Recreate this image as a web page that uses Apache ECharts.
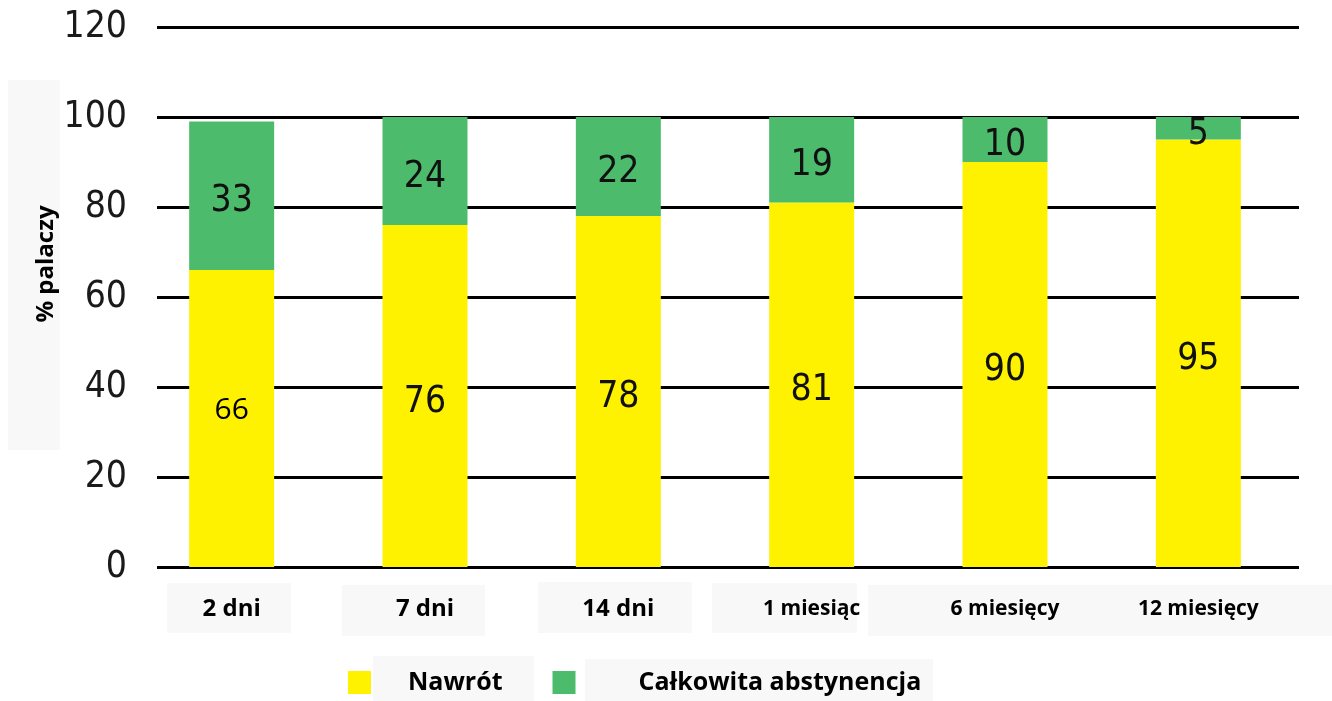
<!DOCTYPE html>
<html>
<head>
<meta charset="utf-8">
<script src="https://cdn.jsdelivr.net/npm/echarts@6/dist/echarts.min.js"></script>
<style>
  html, body { margin: 0; padding: 0; background: #fff; }
  #chart { width: 1332px; height: 701px; }
</style>
</head>
<body>
<div id="chart"></div>
<script>
// categories and values
const categories = ["2 dni", "7 dni", "14 dni", "1 miesiąc", "6 miesięcy", "12 miesięcy"];
const relapse = [66, 76, 78, 81, 90, 95];     // Nawrót
const abstinence = [33, 24, 22, 19, 10, 5];   // Całkowita abstynencja
const yTicks = [0, 20, 40, 60, 80, 100, 120];

const NARROW = '"Liberation Sans Narrow", "DejaVu Sans Condensed", Roboto, sans-serif';
const BOLD = '"Open Sans", "Noto Sans", sans-serif';
const YELLOW = "#fff200";
const GREEN = "#4cbb6c";
const PALE = "#f8f8f8";

const chart = echarts.init(document.getElementById("chart"), null, { renderer: "canvas" });

// faint pasted-in boxes behind the texts
const paleBox = (x, y, w, h) => ({
  type: "rect", z: -1, silent: true,
  shape: { x, y, width: w, height: h },
  style: { fill: PALE }
});

const option = {
  backgroundColor: "#fff",
  animation: false,
  grid: [
    // gridlines + tick labels
    { left: 157, right: 33, top: 27, height: 540 },
    // bars + category labels
    { left: 135, width: 1160, top: 27, height: 540 }
  ],
  xAxis: [
    { gridIndex: 0, type: "category", data: categories, show: false },
    {
      gridIndex: 1,
      type: "category",
      data: categories,
      axisLine: { show: false },
      axisTick: { show: false },
      axisLabel: {
        margin: 27,
        formatter: (v) => (v.indexOf("dni") >= 0 ? `{d|${v}}` : `{m|${v}}`),
        rich: {
          d: { fontFamily: BOLD, fontWeight: "bold", fontSize: 24, color: "#000", lineHeight: 30 },
          m: { fontFamily: BOLD, fontWeight: "bold", fontSize: 21, color: "#000", lineHeight: 30 }
        }
      }
    }
  ],
  yAxis: [
    {
      gridIndex: 0,
      type: "value",
      min: yTicks[0],
      max: yTicks[yTicks.length - 1],
      interval: yTicks[1] - yTicks[0],
      axisLine: { show: false },
      axisTick: { show: false },
      axisLabel: {
        margin: 30,
        color: "#1a1a1a",
        fontFamily: NARROW,
        fontSize: 37
      },
      splitLine: { lineStyle: { color: "#000", width: 3 } }
    },
    {
      gridIndex: 1,
      type: "value",
      min: yTicks[0],
      max: yTicks[yTicks.length - 1],
      show: false,
      splitLine: { show: false }
    }
  ],
  legend: {
    left: 348,
    top: 670,
    padding: 0,
    itemWidth: 23,
    itemHeight: 23,
    itemGap: 50,
    icon: "rect",
    textStyle: { fontFamily: BOLD, fontWeight: "bold", fontSize: 25, color: "#000" },
    data: [
      { name: "Nawrót", textStyle: { padding: [0, 0, 0, 32] } },
      { name: "Całkowita abstynencja", textStyle: { padding: [0, 0, 0, 58] } }
    ]
  },
  graphic: [
    paleBox(8, 80, 52, 370),
    paleBox(167, 583, 124, 50),
    paleBox(342, 585, 143, 51),
    paleBox(538, 582, 154, 51),
    paleBox(712, 583, 145, 50),
    paleBox(868, 585, 464, 51),
    paleBox(373, 656, 161, 45),
    paleBox(585, 659, 348, 42),
    {
      type: "text",
      x: 46, y: 264,
      rotation: Math.PI / 2,
      style: {
        text: "% palaczy",
        font: `bold 24px ${BOLD}`,
        fill: "#000",
        align: "center",
        verticalAlign: "middle"
      }
    }
  ],
  series: [
    {
      name: "Nawrót",
      type: "bar",
      stack: "total",
      xAxisIndex: 1,
      yAxisIndex: 1,
      barWidth: 85,
      itemStyle: { color: YELLOW },
      label: {
        show: true,
        position: "inside",
        offset: [0, 6],
        color: "#111",
        fontFamily: NARROW,
        fontSize: 37
      },
      // first label was pasted in a different typeface
      data: relapse.map((v, i) =>
        i === 0
          ? { value: v, label: { fontFamily: BOLD, fontSize: 30, color: "#000", offset: [0, -8] } }
          : v
      )
    },
    {
      name: "Całkowita abstynencja",
      type: "bar",
      stack: "total",
      xAxisIndex: 1,
      yAxisIndex: 1,
      barWidth: 85,
      itemStyle: { color: GREEN },
      label: {
        show: true,
        position: "inside",
        offset: [0, 6],
        color: "#111",
        fontFamily: NARROW,
        fontSize: 37
      },
      data: abstinence
    }
  ]
};

chart.setOption(option);
</script>
</body>
</html>
